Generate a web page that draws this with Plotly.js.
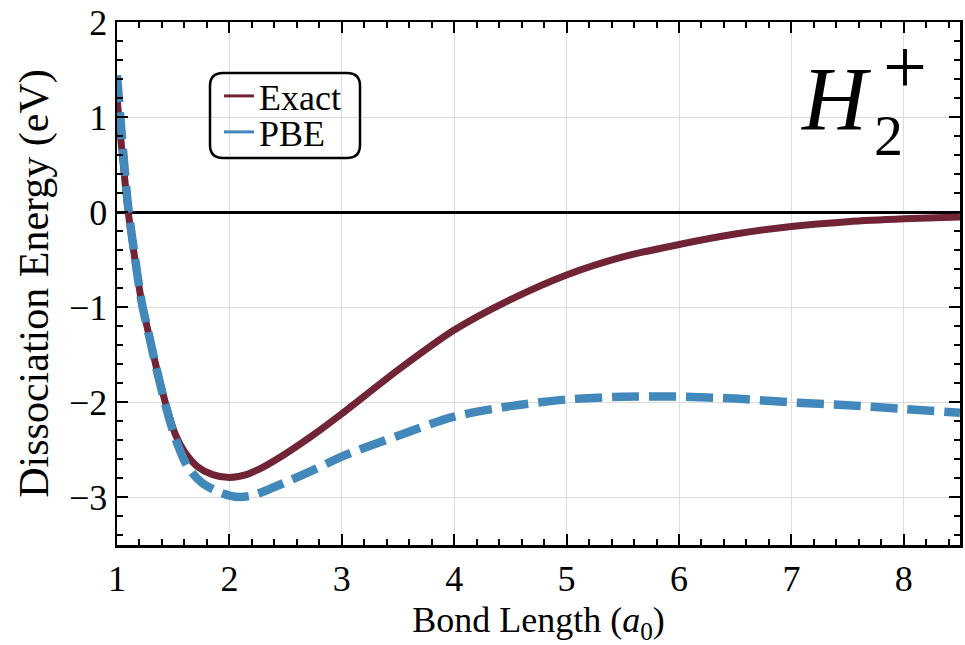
<!DOCTYPE html>
<html>
<head>
<meta charset="utf-8">
<script src="https://cdn.plot.ly/plotly-3.0.1.min.js"></script>
<style>
html,body{margin:0;padding:0;background:#fff;}
#chart{width:965px;height:645px;}
</style>
</head>
<body>
<div id="chart"></div>
<script>
// Bond length (a0) and dissociation energy (eV)
const rExact = [1.0,1.05,1.1,1.16,1.22,1.28,1.35,1.43,1.52,1.6,1.72,1.85,2.0,2.15,2.3,2.5,2.75,3.0,3.5,4.0,4.5,5.0,5.5,6.0,6.5,7.0,7.5,8.0,8.5];
const eExact = [1.2,0.57,0.0,-0.5,-0.95,-1.27,-1.63,-2.0,-2.34,-2.52,-2.68,-2.76,-2.79,-2.76,-2.68,-2.54,-2.34,-2.12,-1.66,-1.24,-0.92,-0.66,-0.47,-0.34,-0.23,-0.15,-0.10,-0.07,-0.05];

const rPBE = [1.0,1.05,1.1,1.16,1.22,1.28,1.35,1.43,1.52,1.63,1.75,1.88,2.0,2.1,2.2,2.3,2.4,2.5,2.75,3.0,3.5,4.0,4.5,5.0,5.5,6.0,6.5,7.0,7.5,8.0,8.5];
const ePBE = [1.44,0.7,0.05,-0.48,-0.95,-1.27,-1.64,-2.02,-2.38,-2.68,-2.84,-2.93,-2.98,-2.995,-2.98,-2.94,-2.89,-2.84,-2.71,-2.57,-2.35,-2.15,-2.04,-1.97,-1.94,-1.94,-1.96,-2.0,-2.03,-2.07,-2.11];

const seriesNames = ["Exact","PBE"];
const xTickVals = [1,2,3,4,5,6,7,8];
const yTickVals = [-3,-2,-1,0,1,2];

const cExact = "#712436";
const cPBE = "#4288bb";
const serif = "Liberation Serif";

const traces = [
  {x: rExact, y: eExact, mode: "lines", line: {color: cExact, width: 7, shape: "spline", smoothing: 0.8}, showlegend: false, hoverinfo: "skip"},
  {x: rPBE, y: ePBE, mode: "lines", line: {color: cPBE, width: 8.5, dash: "27px,10px", shape: "spline", smoothing: 0.8}, showlegend: false, hoverinfo: "skip"},
  {x: [null], y: [null], mode: "lines", name: seriesNames[0], line: {color: cExact, width: 3}, legend: "legend"},
  {x: [null], y: [null], mode: "lines", name: seriesNames[1], line: {color: cPBE, width: 3}, legend: "legend2"}
];

// rounded legend frame in paper coords
const L = 117, R = 960, T = 22, B = 545;
const W = R - L, H = B - T;
function px(x){return (x - L) / W;}
function py(y){return (B - y) / H;}
function roundRect(x0, y0, x1, y1, r){
  const rx = r / W, ry = r / H;
  const a = px(x0), b = px(x1), top = py(y0), bot = py(y1);
  return `M ${a+rx},${top} L ${b-rx},${top} Q ${b},${top} ${b},${top-ry} L ${b},${bot+ry} Q ${b},${bot} ${b-rx},${bot} L ${a+rx},${bot} Q ${a},${bot} ${a},${bot+ry} L ${a},${top-ry} Q ${a},${top} ${a+rx},${top} Z`;
}

function axisCommon(){
  return {
    showline: true, linecolor: "#000", linewidth: 2.5, mirror: "allticks",
    ticks: "inside", ticklen: 11, tickwidth: 2, tickcolor: "#000",
    showgrid: true, gridcolor: "#dcdcdc", gridwidth: 1,
    tickfont: {family: serif, size: 36, color: "#000"},
    minor: {ticks: "inside", ticklen: 6, tickwidth: 2, tickcolor: "#000", dtick: 0.2, showgrid: false}
  };
}

const legendCommon = {xanchor: "left", yanchor: "middle", bgcolor: "rgba(0,0,0,0)", borderwidth: 0,
                      font: {family: serif, size: 36, color: "#000"}, itemwidth: 30};

const layout = {
  width: 965, height: 645,
  font: {family: serif, color: "#000"},
  margin: {l: L, r: 965 - R, t: T, b: 645 - B},
  paper_bgcolor: "#fff", plot_bgcolor: "#fff",
  xaxis: Object.assign(axisCommon(), {
    range: [1, 8.5], tickvals: xTickVals, zeroline: false,
    title: {text: "Bond Length (<i>a</i><sub>0</sub>)", font: {family: serif, size: 36, color: "#000"}, standoff: 28}
  }),
  yaxis: Object.assign(axisCommon(), {
    range: [-3.5, 2], tickvals: yTickVals, zeroline: true, zerolinecolor: "#000", zerolinewidth: 3,
    title: {text: "Dissociation Energy (eV)", font: {family: serif, size: 42, color: "#000"}, standoff: 8}
  }),
  showlegend: true,
  legend: Object.assign({}, legendCommon, {x: px(219), y: py(96)}),
  legend2: Object.assign({}, legendCommon, {x: px(219), y: py(132)}),
  shapes: [
    {type: "path", xref: "paper", yref: "paper", path: roundRect(210, 73, 360, 158, 13), line: {color: "#000", width: 2.5}, fillcolor: "rgba(0,0,0,0)", layer: "above"}
  ],
  annotations: [
    {xref: "paper", yref: "paper", x: px(836), y: py(99), text: "<i>H</i>", showarrow: false, xanchor: "center", yanchor: "middle", font: {family: serif, size: 90, color: "#000"}},
    {xref: "paper", yref: "paper", x: px(888), y: py(136), text: "2", showarrow: false, xanchor: "center", yanchor: "middle", font: {family: serif, size: 58, color: "#000"}},
    {xref: "paper", yref: "paper", x: px(905), y: py(66), text: "+", showarrow: false, xanchor: "center", yanchor: "middle", font: {family: serif, size: 78, color: "#000"}}
  ]
};

Plotly.newPlot("chart", traces, layout, {displayModeBar: false, staticPlot: true});
</script>
</body>
</html>
